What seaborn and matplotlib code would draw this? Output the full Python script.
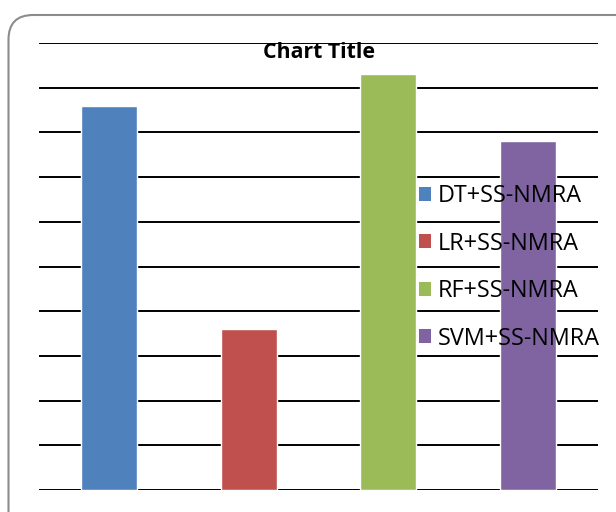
import matplotlib
matplotlib.use("Agg")
import matplotlib.pyplot as plt
from matplotlib.patches import FancyBboxPatch, Patch
import seaborn as sns
import pandas as pd

methods = ["DT+SS-NMRA", "LR+SS-NMRA", "RF+SS-NMRA", "SVM+SS-NMRA"]
scores = [86, 36, 93, 78]
colors = ["#4F81BD", "#C0504D", "#9BBB59", "#8064A2"]

sns.set_theme(style="white")
plt.rcParams["font.family"] = ["Open Sans", "DejaVu Sans"]

df = pd.DataFrame({"method": methods, "score": scores})

fig = plt.figure(figsize=(6.16, 5.12), dpi=100)
ax = fig.add_axes([39 / 616, 22 / 512, 559 / 616, 447 / 512])

sns.barplot(data=df, x="method", y="score", hue="method", palette=colors,
            width=0.4, saturation=1, legend=False, ax=ax, zorder=3)

ax.set_ylim(0, 100)
ax.set_xlim(-0.5, 3.5)
ax.set_yticks(range(0, 101, 10))
ax.yaxis.grid(True, color="black", linewidth=1.4, zorder=0)
ax.set_axisbelow(True)
ax.set_xticks([])
ax.set_yticklabels([])
ax.tick_params(left=False, bottom=False)
ax.set_xlabel("")
ax.set_ylabel("")
for s in ax.spines.values():
    s.set_visible(False)

# Rounded chart-area frame
frame = FancyBboxPatch((8.5 / 616, -30 / 512), 640 / 616, 527 / 512,
                       boxstyle="round,pad=0,rounding_size=0.04",
                       transform=fig.transFigure, fill=False,
                       edgecolor="#8c8c8c", linewidth=1.5, zorder=0,
                       mutation_aspect=616 / 512)
fig.patches.append(frame)

fig.text(319 / 616, 1 - 53 / 512, "Chart Title", ha="center", va="center",
         fontsize=15.3, fontweight="bold", color="black")

handles = [Patch(facecolor=c, edgecolor="none", label=m)
           for c, m in zip(colors, methods)]
leg = fig.legend(handles=handles, loc="upper left",
                 bbox_to_anchor=(419 / 616, 1 - 184 / 512),
                 borderaxespad=0, borderpad=0,
                 frameon=False, fontsize=16.8, handlelength=0.5,
                 handleheight=0.55, handletextpad=0.3, labelspacing=1.01)
for t in leg.get_texts():
    t.set_color("black")

fig.savefig("out.png", dpi=100)
